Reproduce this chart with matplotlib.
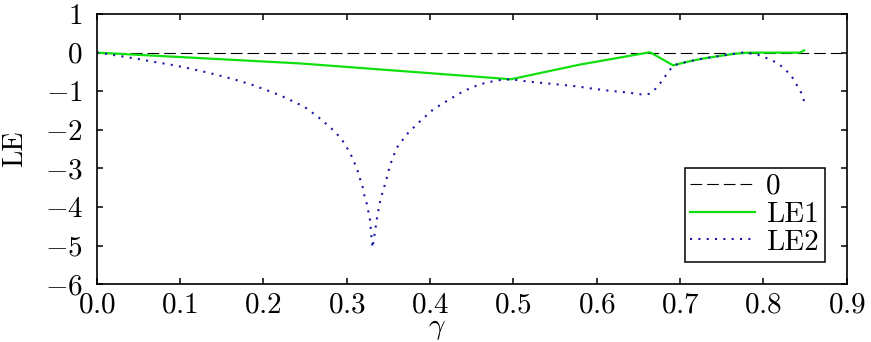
import matplotlib
matplotlib.use("Agg")
import matplotlib.pyplot as plt

# Lyapunov exponents vs gamma
gamma_le1 = [0.000, 0.244, 0.497, 0.580, 0.664, 0.692, 0.708, 0.727, 0.747,
             0.767, 0.783, 0.844, 0.849]
le1 = [0.0, -0.28, -0.69, -0.31, 0.01, -0.33, -0.24, -0.156, -0.088,
       -0.026, 0.0, 0.0, 0.06]

gamma_le2 = [0.000, 0.010, 0.030, 0.050, 0.070, 0.089, 0.109, 0.128, 0.147,
             0.166, 0.186, 0.205, 0.223, 0.249, 0.259, 0.267, 0.274, 0.281,
             0.288, 0.295, 0.300, 0.305, 0.309, 0.313, 0.316, 0.319, 0.321,
             0.324, 0.326, 0.328, 0.329, 0.331, 0.334, 0.337, 0.341, 0.347,
             0.352, 0.360, 0.372, 0.388, 0.404, 0.422, 0.440, 0.460, 0.480,
             0.497, 0.516, 0.537, 0.556, 0.576, 0.596, 0.616, 0.636, 0.656,
             0.664, 0.671, 0.678, 0.684, 0.692, 0.708, 0.727, 0.747, 0.767,
             0.777, 0.786, 0.796, 0.805, 0.814, 0.823, 0.830, 0.836, 0.841,
             0.846, 0.849]
le2 = [0.0, -0.026, -0.096, -0.166, -0.244, -0.312, -0.40, -0.49, -0.59,
       -0.70, -0.83, -0.98, -1.135, -1.40, -1.56, -1.69, -1.82, -1.95,
       -2.10, -2.28, -2.45, -2.64, -2.84, -3.05, -3.27, -3.46, -3.68,
       -3.90, -4.11, -4.33, -4.59, -5.06, -4.63, -4.20, -3.77, -3.34,
       -2.92, -2.47, -2.12, -1.78, -1.47, -1.23, -1.00, -0.82, -0.72,
       -0.69, -0.745, -0.79, -0.83, -0.875, -0.935, -0.99, -1.03, -1.09,
       -1.065, -0.93, -0.745, -0.56, -0.33, -0.24, -0.156, -0.088, -0.026,
       0.008, -0.026, -0.07, -0.15, -0.24, -0.37, -0.52, -0.675, -0.87,
       -1.06, -1.26]

zero_x = [0.0, 0.9]
zero_y = [0.0, 0.0]

x_ticks = [0.0, 0.1, 0.2, 0.3, 0.4, 0.5, 0.6, 0.7, 0.8, 0.9]
x_labels = ["0.0", "0.1", "0.2", "0.3", "0.4", "0.5", "0.6", "0.7", "0.8", "0.9"]
y_ticks = [-6, -5, -4, -3, -2, -1, 0, 1]
y_labels = ["-6", "-5", "-4", "-3", "-2", "-1", "0", "1"]

plt.rcParams["font.family"] = ["cmr10"]
plt.rcParams["mathtext.fontset"] = "cm"
plt.rcParams["axes.unicode_minus"] = False

fig = plt.figure(figsize=(8.71, 3.42), dpi=100)
ax = fig.add_axes([0.111, 0.169, 0.861, 0.790])

ax.plot(zero_x, zero_y, color="black", linewidth=0.8, dashes=(10.5, 4.5), label="0")
ax.plot(gamma_le1, le1, color="#10e010", linewidth=1.6, label="LE1")
ax.plot(gamma_le2, le2, color="#1818a8", linewidth=1.5, dashes=(1, 3.0), label="LE2")

ax.set_xlim(0, 0.9)
ax.set_ylim(-6, 1)
ax.set_xticks(x_ticks)
ax.set_xticklabels(["$%s$" % s for s in x_labels])
ax.set_yticks(y_ticks)
ax.set_yticklabels(["$%s$" % s for s in y_labels])
ax.tick_params(direction="in", length=4, width=1.1, labelsize=21,
               top=True, right=True)
ax.tick_params(axis="y", pad=10)
ax.tick_params(axis="x", pad=6)
for sp in ax.spines.values():
    sp.set_linewidth(1.2)

ax.set_xlabel(r"$\gamma$", fontsize=21)
ax.xaxis.set_label_coords(0.453, -0.115)
ax.set_ylabel("LE", fontsize=20)
ax.yaxis.set_label_coords(-0.091, 0.5)

leg = ax.legend(loc="lower right", bbox_to_anchor=(0.971, 0.084),
                borderaxespad=0, fontsize=21, fancybox=False,
                framealpha=1, edgecolor="black", handlelength=2.2,
                labelspacing=0.05, borderpad=0.2, handletextpad=0.4)
leg.get_frame().set_linewidth(1.1)

fig.savefig("out.png", dpi=100)
